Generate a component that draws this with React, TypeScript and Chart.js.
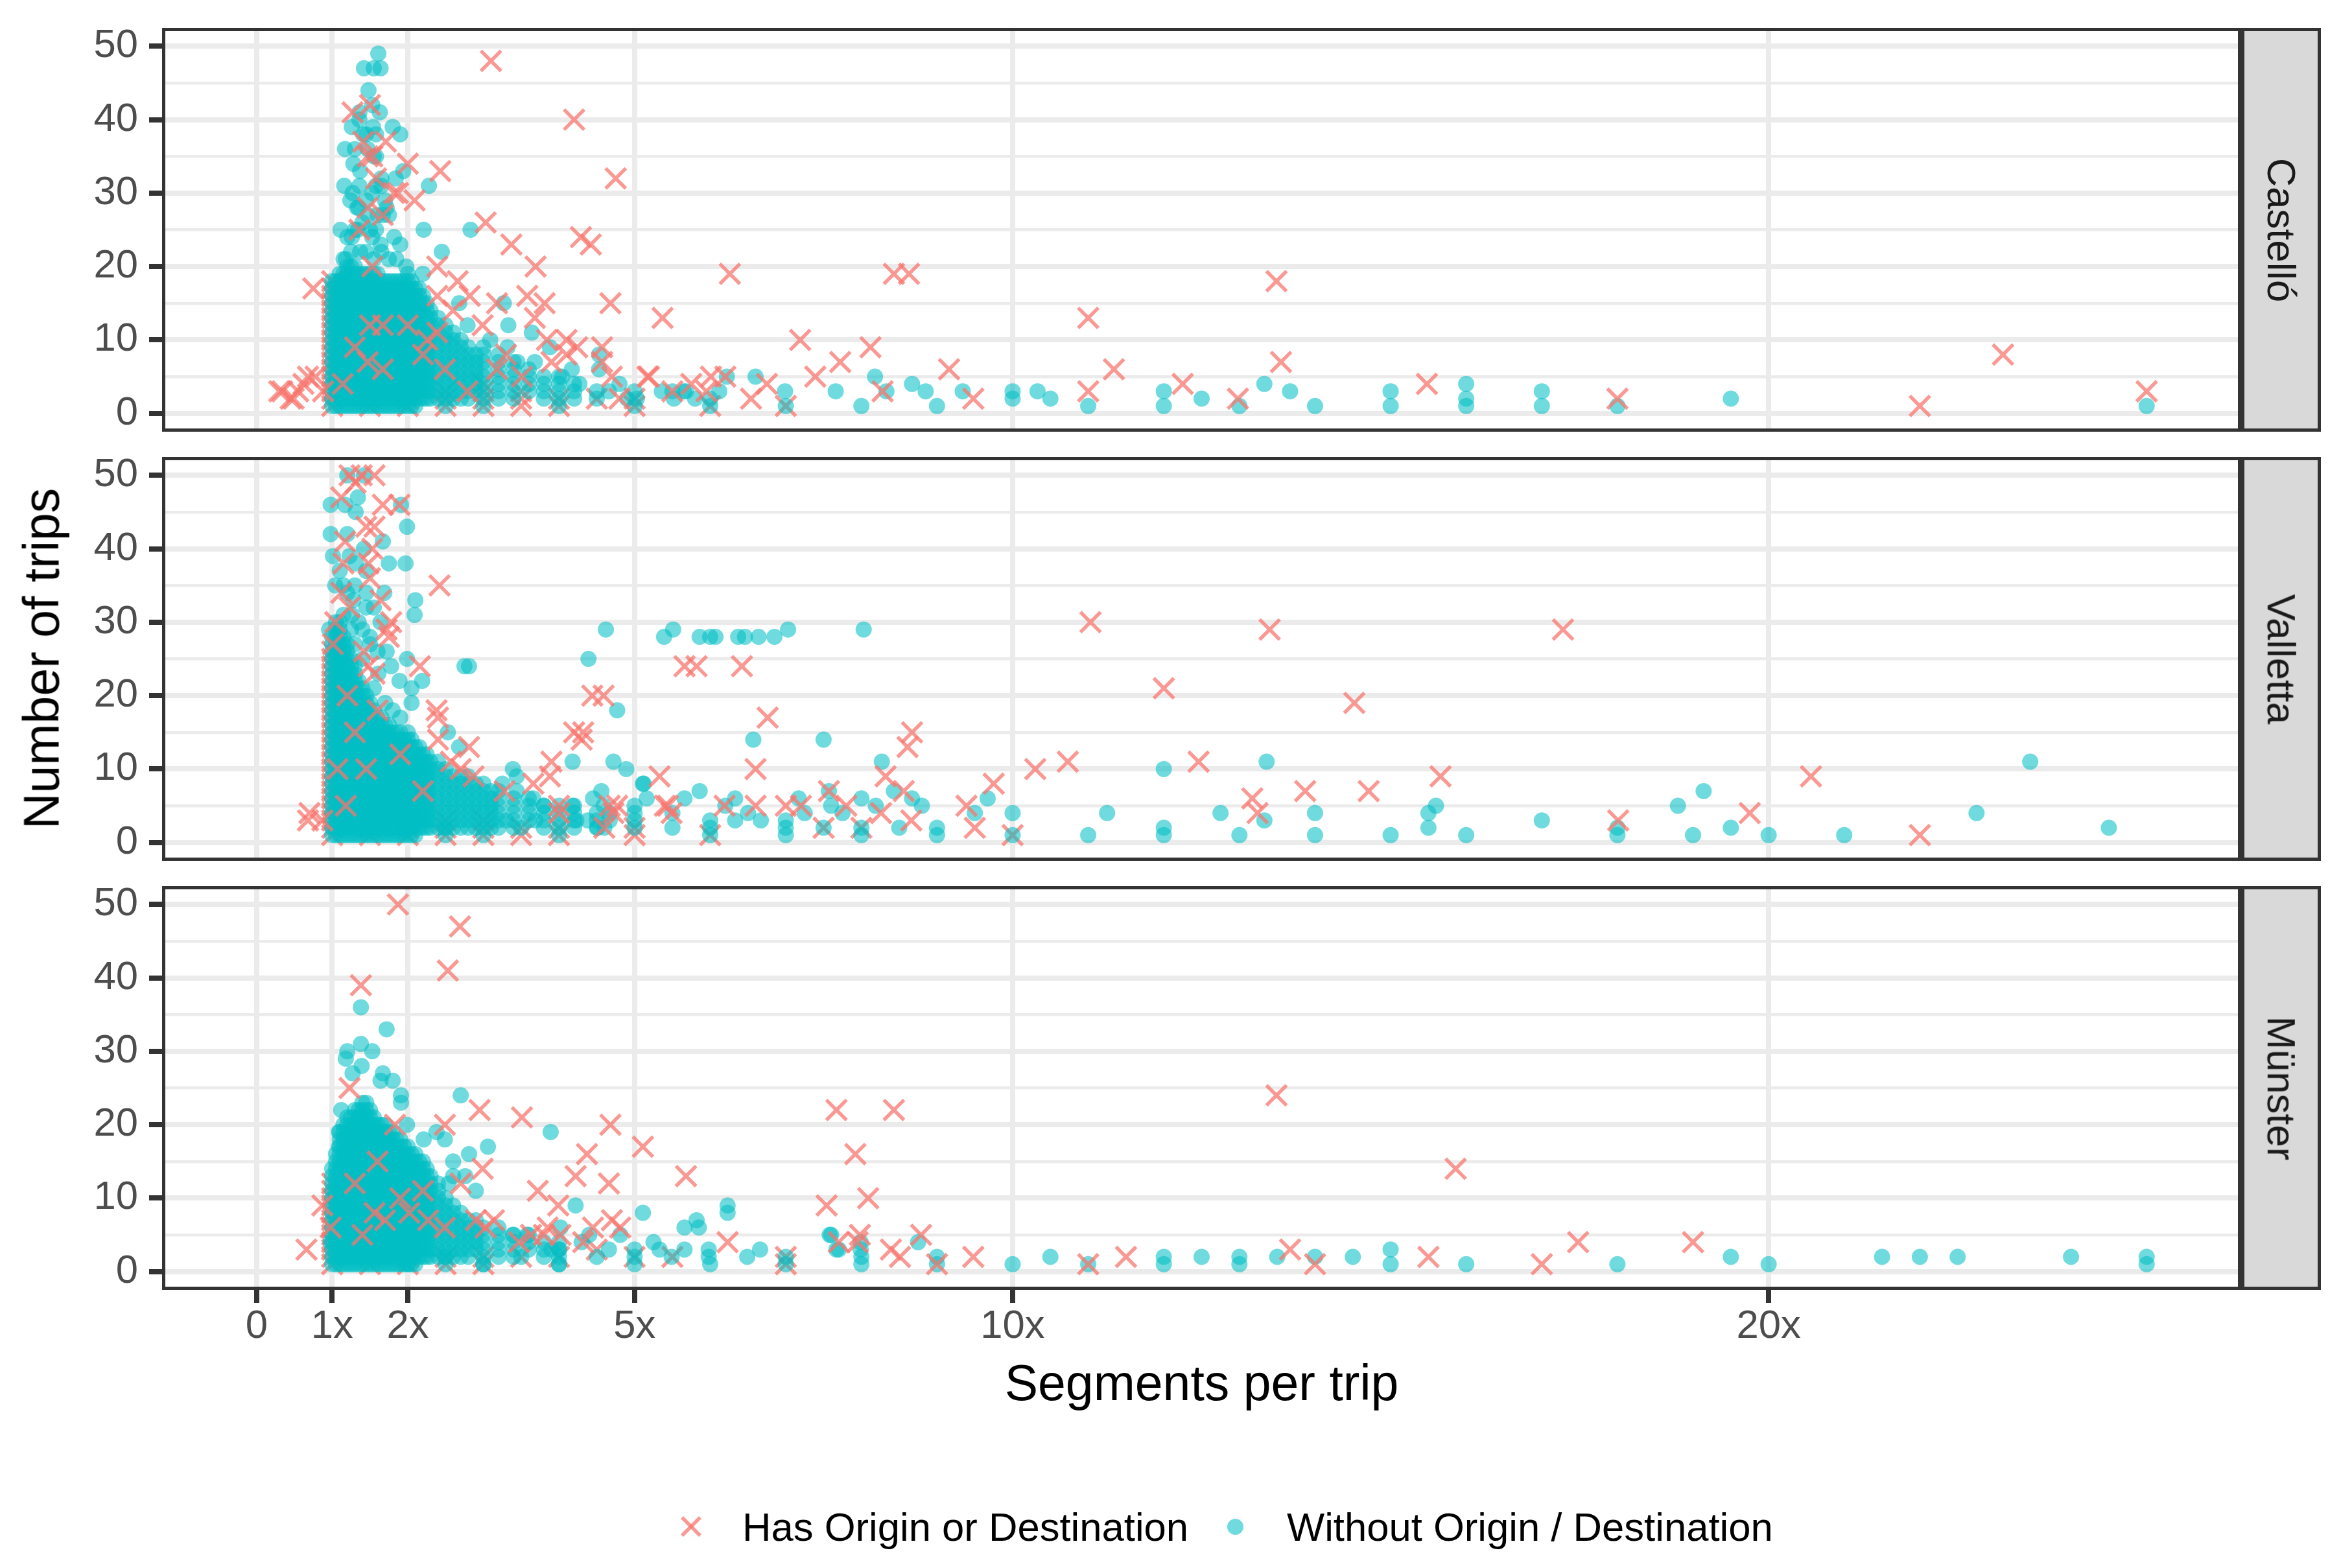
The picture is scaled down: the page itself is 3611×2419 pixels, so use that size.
// App.tsx
import { useEffect, useRef } from 'react';
import Chart from 'chart.js/auto';

type Pt = [number, number];
type Col = [number, number[]]; // one x value, many y values stacked in a column

const facetLabels = ['Castelló', 'Valletta', 'Münster'];
const seriesLabels = ['Has Origin or Destination', 'Without Origin / Destination'];
const xBreaks = [0, 1, 2, 5, 10, 20];
const xBreakLabels = ['0', '1x', '2x', '5x', '10x', '20x'];
const yBreaks = [0, 5, 10, 15, 20, 25, 30, 35, 40, 45, 50];
const yBreakLabels = ['0', '', '10', '', '20', '', '30', '', '40', '', '50'];

// ---------- Castelló ----------
const castelloOdCols: Col[] = [
  [1.0, [1, 2, 3, 4, 5, 6, 7, 8, 9, 10, 11, 12, 13, 14, 15, 16, 17, 18]],
  [1.5, [1, 2, 3, 4, 5]],
  [2.0, [1, 2, 3, 4, 5, 6, 7, 8, 9, 10]],
  [2.5, [1, 2, 3]],
  [3.0, [1, 2, 3, 4]],
  [3.5, [1, 2, 3]],
  [4.0, [1, 2]],
  [4.5, [2]],
  [5.0, [1, 2]],
  [6.0, [1]],
  [7.0, [1]],
];
const castelloOdPts: Pt[] = [
  [3.1, 48], [4.2, 40], [4.75, 32], [2.43, 33], [2, 34], [1.5, 42], [1.27, 41], [1.47, 35], [1.71, 37],
  [1.82, 30], [1.87, 30], [2.09, 29], [1.58, 32], [1.67, 27], [1.47, 28], [1.36, 25], [1.41, 37], [1.53, 35],
  [3.03, 26], [3.37, 23], [4.29, 24], [4.42, 23], [3.69, 20], [2.39, 20], [2.66, 18], [2.82, 16], [3.58, 16],
  [3.81, 15], [4.68, 15], [3.18, 15], [2.39, 16], [1.53, 20], [0.75, 17], [5.37, 13], [6.26, 19], [8.43, 19],
  [8.63, 19], [13.49, 18], [11, 13],
  [1.67, 12], [2, 12], [2.26, 10], [2.39, 11], [2.99, 12], [3.68, 13], [3.84, 10], [4.1, 10], [4.24, 9],
  [4.57, 9], [4.57, 7], [4.7, 5], [5.19, 5], [5.75, 4], [6.01, 5], [6.54, 2], [5.95, 3], [3.51, 5], [3.18, 6],
  [2.49, 6], [2.79, 3], [1.47, 7], [1.14, 4], [0.68, 5], [0.55, 3], [0.34, 3], [0.49, 2], [0.78, 5], [0.88, 3],
  [0.3, 3], [0.45, 2], [0.62, 4], [1.5, 12], [1.67, 6], [1.3, 9], [2.2, 8], [3.3, 8], [2.6, 14], [4.1, 8], [3.9, 7],
  [7.19, 10], [8.12, 9], [7.72, 7], [7.39, 5], [9.16, 6], [11.34, 6], [13.55, 7], [23.1, 8], [12.25, 4],
  [15.48, 4], [25, 3], [22, 1], [18, 2], [12.98, 2], [11, 3], [9.48, 2], [8.28, 3], [6.75, 4], [6.2, 5],
  [5.17, 5], [5.5, 3], [4.8, 2],
];
const castelloNoOdCols: Col[] = [
  [1.0, [1, 2, 3, 4, 5, 6, 7, 8, 9, 10, 11, 12, 13, 14, 15, 16, 17, 18]],
  [1.05, [1, 2, 3, 4, 5, 6, 7, 8, 9, 10, 11, 12, 13, 14, 15, 16, 17, 18]],
  [1.1, [1, 2, 3, 4, 5, 6, 7, 8, 9, 10, 11, 12, 13, 14, 15, 16, 17, 18, 19]],
  [1.15, [1, 2, 3, 4, 5, 6, 7, 8, 9, 10, 11, 12, 13, 14, 15, 16, 17, 18, 19]],
  [1.2, [1, 2, 3, 4, 5, 6, 7, 8, 9, 10, 11, 12, 13, 14, 15, 16, 17, 18, 19, 20]],
  [1.25, [1, 2, 3, 4, 5, 6, 7, 8, 9, 10, 11, 12, 13, 14, 15, 16, 17, 18, 19, 20]],
  [1.3, [1, 2, 3, 4, 5, 6, 7, 8, 9, 10, 11, 12, 13, 14, 15, 16, 17, 18, 19, 20]],
  [1.35, [1, 2, 3, 4, 5, 6, 7, 8, 9, 10, 11, 12, 13, 14, 15, 16, 17, 18, 19]],
  [1.4, [1, 2, 3, 4, 5, 6, 7, 8, 9, 10, 11, 12, 13, 14, 15, 16, 17, 18, 19]],
  [1.45, [1, 2, 3, 4, 5, 6, 7, 8, 9, 10, 11, 12, 13, 14, 15, 16, 17, 18, 19]],
  [1.5, [1, 2, 3, 4, 5, 6, 7, 8, 9, 10, 11, 12, 13, 14, 15, 16, 17, 18, 19]],
  [1.55, [1, 2, 3, 4, 5, 6, 7, 8, 9, 10, 11, 12, 13, 14, 15, 16, 17, 18, 19]],
  [1.6, [1, 2, 3, 4, 5, 6, 7, 8, 9, 10, 11, 12, 13, 14, 15, 16, 17, 18, 19]],
  [1.65, [1, 2, 3, 4, 5, 6, 7, 8, 9, 10, 11, 12, 13, 14, 15, 16, 17, 18]],
  [1.7, [1, 2, 3, 4, 5, 6, 7, 8, 9, 10, 11, 12, 13, 14, 15, 16, 17, 18]],
  [1.75, [1, 2, 3, 4, 5, 6, 7, 8, 9, 10, 11, 12, 13, 14, 15, 16, 17, 18]],
  [1.8, [1, 2, 3, 4, 5, 6, 7, 8, 9, 10, 11, 12, 13, 14, 15, 16, 17, 18]],
  [1.85, [1, 2, 3, 4, 5, 6, 7, 8, 9, 10, 11, 12, 13, 14, 15, 16, 17, 18]],
  [1.9, [1, 2, 3, 4, 5, 6, 7, 8, 9, 10, 11, 12, 13, 14, 15, 16, 17, 18]],
  [1.95, [1, 2, 3, 4, 5, 6, 7, 8, 9, 10, 11, 12, 13, 14, 15, 16, 17, 18]],
  [2.0, [1, 2, 3, 4, 5, 6, 7, 8, 9, 10, 11, 12, 13, 14, 15, 16, 17, 18, 19]],
  [2.05, [1, 2, 3, 4, 5, 6, 7, 8, 9, 10, 11, 12, 13, 14, 15, 16, 17, 18]],
  [2.1, [1, 2, 3, 4, 5, 6, 7, 8, 9, 10, 11, 12, 13, 14, 15, 16, 17]],
  [2.15, [2, 3, 4, 5, 6, 7, 8, 9, 10, 11, 12, 13, 14, 15, 16, 17]],
  [2.2, [2, 3, 4, 5, 6, 7, 8, 9, 10, 11, 12, 13, 14, 15, 16]],
  [2.25, [2, 3, 4, 5, 6, 7, 8, 9, 10, 11, 12, 13, 14, 15]],
  [2.3, [2, 3, 4, 5, 6, 7, 8, 9, 10, 11, 12, 13, 14]],
  [2.4, [2, 3, 4, 5, 6, 7, 8, 9, 10, 11, 12, 13]],
  [2.5, [1, 2, 3, 4, 5, 6, 7, 8, 9, 10, 11, 12]],
  [2.6, [2, 3, 4, 5, 6, 7, 8, 9, 10, 11]],
  [2.7, [2, 3, 4, 5, 6, 7, 8, 9, 10]],
  [2.8, [2, 3, 4, 5, 6, 7, 8, 9]],
  [2.9, [3, 4, 5, 6, 7, 8]],
  [3.0, [1, 2, 3, 4, 5, 6, 7, 8, 9]],
  [3.2, [2, 3, 4, 5, 6, 7, 8]],
  [3.4, [2, 3, 4, 5, 6, 7]],
  [3.6, [3, 4, 5, 6]],
  [3.8, [2, 3, 4, 5]],
  [4.0, [1, 2, 3, 4, 5]],
  [4.2, [2, 3, 4]],
  [4.5, [2, 3]],
];
const castelloNoOdPts: Pt[] = [
  [1.61, 49], [1.42, 47], [1.55, 47], [1.64, 47], [1.48, 44], [1.53, 42], [1.63, 41], [1.36, 41], [1.26, 39],
  [1.36, 40], [1.54, 39], [1.8, 39], [1.9, 38], [1.58, 38], [1.41, 38], [1.17, 36], [1.47, 36], [1.58, 35],
  [1.28, 34], [1.37, 33], [1.55, 35], [1.65, 32], [1.84, 32], [1.94, 33], [1.16, 31], [1.27, 30], [1.36, 31],
  [1.24, 29], [1.53, 30], [1.58, 31], [2.28, 31], [1.33, 28], [1.47, 27], [1.72, 28], [1.75, 27], [1.67, 27],
  [1.11, 25], [1.26, 24], [1.34, 25], [1.58, 25], [1.53, 24], [1.82, 24], [1.9, 23], [1.64, 23], [1.37, 22],
  [1.18, 21], [1.85, 21], [1.98, 20], [2.21, 25], [2.83, 25], [2.45, 22], [2.2, 19],
  [1.15, 21], [1.25, 22], [1.45, 22], [1.55, 21], [1.65, 22], [1.75, 21], [1.2, 24], [1.3, 25], [1.4, 26],
  [1.5, 25], [1.6, 27], [1.35, 28], [1.45, 29], [1.7, 29], [1.65, 31], [1.3, 36], [1.45, 38],
  [2.68, 15], [3.27, 15], [3.33, 12], [2.79, 12], [3.64, 11], [3.88, 9], [3.68, 7], [3.45, 7], [3.32, 9],
  [3.09, 10], [4.53, 8], [4.53, 6], [4.66, 3], [4.27, 4], [4.04, 5], [4.17, 6], [6.22, 5], [6.6, 5], [5.68, 3],
  [5.52, 2], [5.36, 3], [5.03, 2], [5, 1], [6, 1], [6, 2], [5, 3], [4.8, 4], [4.9, 2], [5.5, 3], [5.8, 2],
  [5.65, 3], [6.12, 3], [6.99, 3], [7, 1], [7.66, 3], [8, 1], [8.18, 5], [8.33, 3], [8.67, 4], [8.85, 3],
  [9, 1], [9.34, 3], [10, 3], [10, 2], [10.33, 3], [10.5, 2], [11, 1], [12, 3], [12, 1], [12.5, 2], [13, 1],
  [13.33, 4], [13.67, 3], [14, 1], [15, 3], [15, 1], [16, 4], [16, 2], [16, 1], [17, 3], [17, 1], [18, 1],
  [19.5, 2], [25, 1],
];

// ---------- Valletta ----------
const vallettaOdCols: Col[] = [
  [1.0, [1, 2, 3, 4, 5, 6, 7, 8, 9, 10, 11, 12, 13, 14, 15, 16, 17, 18, 19, 20, 21, 22, 23, 24, 25, 26]],
  [1.5, [1, 2, 3, 5]],
  [2.0, [1, 2, 3, 4, 5, 6, 7, 8]],
  [2.5, [1, 2, 3]],
  [3.0, [1, 2, 3]],
  [3.5, [1, 2]],
  [4.0, [1, 2]],
  [5.0, [1, 2]],
  [6.0, [1]],
  [7.5, [2]],
  [8.0, [2]],
  [10.0, [1]],
];
const vallettaOdPts: Pt[] = [
  [1.23, 50], [1.39, 50], [1.56, 50], [1.12, 47], [1.31, 49], [1.67, 46], [1.89, 46], [1.45, 43], [1.56, 43],
  [1.17, 41], [1.53, 40], [1.15, 38], [1.48, 38], [1.5, 36], [2.42, 35], [1.12, 34], [1.64, 33], [1.23, 32],
  [1.04, 30], [1.78, 30], [1.72, 29], [1.75, 28], [1.01, 27], [1.42, 26], [1.48, 24], [2.16, 24], [1.56, 23],
  [2.38, 18], [2.4, 17], [2.4, 14], [2.81, 13], [2.57, 11], [2.7, 10], [4.2, 15], [4.3, 14], [3.9, 11],
  [3.88, 9], [3.66, 8], [3.28, 7], [2.87, 9], [1.07, 10], [1.45, 10], [1.18, 5], [0.68, 3], [0.7, 4],
  [0.87, 3], [4, 5], [4, 4], [4.67, 5], [4.72, 4], [5.33, 9], [5.44, 5], [5.49, 4], [1.3, 15], [1.6, 18],
  [1.9, 12], [2.2, 7], [1.2, 20],
  [4.44, 20], [4.59, 20], [5.66, 24], [5.82, 24], [6.42, 24], [6.76, 17], [8.67, 15], [8.61, 13], [11.03, 30],
  [13.4, 29], [12, 21], [4.32, 15], [6.6, 10], [8.32, 9], [8.56, 7], [10.3, 10], [10.73, 11], [12.46, 11],
  [9.75, 8], [13.17, 6], [13.24, 4], [7.57, 7], [7.8, 5], [8.26, 4], [8.66, 3], [9.39, 5], [9.5, 2], [4.77, 5],
  [5.4, 5], [6.19, 5], [6.6, 5], [7, 5], [7.2, 5], [4.6, 2],
  [14.52, 19], [17.28, 29], [13.87, 7], [14.71, 7], [15.66, 9], [18.01, 3], [19.75, 4], [20.56, 9], [22, 1],
];
const vallettaNoOdCols: Col[] = [
  [1.0, [1, 2, 3, 4, 5, 6, 7, 8, 9, 10, 11, 12, 13, 14, 15, 16, 17, 18, 19, 20, 21, 22, 23, 24, 25, 26, 27, 28]],
  [1.05, [1, 2, 3, 4, 5, 6, 7, 8, 9, 10, 11, 12, 13, 14, 15, 16, 17, 18, 19, 20, 21, 22, 23, 24, 25, 26, 27, 28, 29, 30]],
  [1.1, [1, 2, 3, 4, 5, 6, 7, 8, 9, 10, 11, 12, 13, 14, 15, 16, 17, 18, 19, 20, 21, 22, 23, 24, 25, 26, 27, 28, 29, 30]],
  [1.15, [1, 2, 3, 4, 5, 6, 7, 8, 9, 10, 11, 12, 13, 14, 15, 16, 17, 18, 19, 20, 21, 22, 23, 24, 25, 26, 27, 28]],
  [1.2, [1, 2, 3, 4, 5, 6, 7, 8, 9, 10, 11, 12, 13, 14, 15, 16, 17, 18, 19, 20, 21, 22, 23, 24, 25, 26, 27]],
  [1.25, [1, 2, 3, 4, 5, 6, 7, 8, 9, 10, 11, 12, 13, 14, 15, 16, 17, 18, 19, 20, 21, 22, 23, 24, 25]],
  [1.3, [1, 2, 3, 4, 5, 6, 7, 8, 9, 10, 11, 12, 13, 14, 15, 16, 17, 18, 19, 20, 21, 22, 23, 24]],
  [1.35, [1, 2, 3, 4, 5, 6, 7, 8, 9, 10, 11, 12, 13, 14, 15, 16, 17, 18, 19, 20, 21, 22]],
  [1.4, [1, 2, 3, 4, 5, 6, 7, 8, 9, 10, 11, 12, 13, 14, 15, 16, 17, 18, 19, 20, 21]],
  [1.45, [1, 2, 3, 4, 5, 6, 7, 8, 9, 10, 11, 12, 13, 14, 15, 16, 17, 18, 19, 20]],
  [1.5, [1, 2, 3, 4, 5, 6, 7, 8, 9, 10, 11, 12, 13, 14, 15, 16, 17, 18, 19]],
  [1.55, [1, 2, 3, 4, 5, 6, 7, 8, 9, 10, 11, 12, 13, 14, 15, 16, 17, 18]],
  [1.6, [1, 2, 3, 4, 5, 6, 7, 8, 9, 10, 11, 12, 13, 14, 15, 16, 17]],
  [1.65, [1, 2, 3, 4, 5, 6, 7, 8, 9, 10, 11, 12, 13, 14, 15, 16, 17]],
  [1.7, [1, 2, 3, 4, 5, 6, 7, 8, 9, 10, 11, 12, 13, 14, 15, 16]],
  [1.75, [1, 2, 3, 4, 5, 6, 7, 8, 9, 10, 11, 12, 13, 14, 15, 16]],
  [1.8, [1, 2, 3, 4, 5, 6, 7, 8, 9, 10, 11, 12, 13, 14, 15]],
  [1.85, [1, 2, 3, 4, 5, 6, 7, 8, 9, 10, 11, 12, 13, 14, 15]],
  [1.9, [1, 2, 3, 4, 5, 6, 7, 8, 9, 10, 11, 12, 13, 14, 15]],
  [1.95, [1, 2, 3, 4, 5, 6, 7, 8, 9, 10, 11, 12, 13, 14]],
  [2.0, [1, 2, 3, 4, 5, 6, 7, 8, 9, 10, 11, 12, 13, 14, 15]],
  [2.05, [1, 2, 3, 4, 5, 6, 7, 8, 9, 10, 11, 12, 13, 14]],
  [2.1, [1, 2, 3, 4, 5, 6, 7, 8, 9, 10, 11, 12, 13]],
  [2.15, [2, 3, 4, 5, 6, 7, 8, 9, 10, 11, 12, 13]],
  [2.2, [2, 3, 4, 5, 6, 7, 8, 9, 10, 11, 12]],
  [2.25, [2, 3, 4, 5, 6, 7, 8, 9, 10, 11, 12]],
  [2.3, [2, 3, 4, 5, 6, 7, 8, 9, 10, 11]],
  [2.4, [2, 3, 4, 5, 6, 7, 8, 9, 10, 11]],
  [2.5, [1, 2, 3, 4, 5, 6, 7, 8, 9, 10]],
  [2.6, [2, 3, 4, 5, 6, 7, 8, 9]],
  [2.7, [2, 3, 4, 5, 6, 7, 8, 9]],
  [2.8, [2, 3, 4, 5, 6, 7, 8, 9]],
  [2.9, [2, 3, 4, 5, 6, 7, 8]],
  [3.0, [1, 2, 3, 4, 5, 6, 7, 8]],
  [3.1, [2, 3, 4, 5, 6, 7]],
  [3.2, [2, 3, 4, 5, 6, 7]],
  [3.4, [2, 3, 4, 5, 6]],
  [3.6, [3, 4, 5, 6]],
  [3.8, [2, 3, 4, 5]],
  [4.0, [1, 2, 3, 4, 5]],
  [4.2, [2, 3, 4, 5]],
  [4.5, [2, 3, 4]],
];
const vallettaNoOdPts: Pt[] = [
  [1.2, 50], [1.42, 50], [1.34, 47], [0.98, 46], [1.17, 46], [1.31, 45], [1.91, 46], [1.99, 43], [0.98, 42],
  [1.2, 42], [1.67, 41], [1.42, 40], [1.01, 39], [1.23, 39], [1.75, 38], [1.97, 38], [1.31, 38], [1.45, 37],
  [1.15, 35], [1.04, 35], [1.45, 34], [1.69, 34], [2.1, 33], [2.09, 31], [1.28, 33], [1.26, 31], [0.96, 29],
  [1.64, 30], [1.72, 26], [1.99, 25], [1.78, 24], [1.61, 23], [1.89, 22], [2.19, 22], [2.05, 21], [2.05, 19],
  [2.75, 24], [2.81, 24], [1.5, 28], [1.55, 32], [1.4, 29],
  [1.15, 31], [1.25, 29], [1.3, 27], [1.4, 25], [1.35, 30], [1.5, 27], [1.45, 32], [1.2, 34], [1.1, 37],
  [1.3, 35], [1.6, 26], [1.55, 21], [1.7, 19], [1.8, 18], [1.9, 17],
  [4.62, 29], [4.39, 25], [4.77, 18], [2.53, 15], [2.68, 13], [3.39, 10], [3.44, 9], [4.18, 11], [4.72, 11],
  [4.89, 10], [5.11, 8], [3.25, 8], [3.44, 7], [3.66, 6], [3.8, 5], [4.18, 5], [4.56, 7], [4.45, 6], [4.59, 5],
  [4.23, 3], [4.51, 2], [5, 2], [4.67, 3], [3.3, 3], [3.5, 2], [3.69, 3], [2.49, 2], [1.5, 2],
  [5.39, 28], [5.51, 29], [5.86, 28], [6, 28], [6.07, 28], [6.37, 28], [6.46, 28], [6.64, 28], [6.85, 28],
  [7.03, 29], [8.03, 29], [6.57, 14], [7.5, 14], [5.12, 8], [5.16, 6], [5.66, 6], [5.86, 7], [6.33, 6],
  [6.2, 5], [8.27, 11], [8.43, 7], [8.67, 6], [8.8, 5], [9.67, 6], [10, 4], [11.25, 4], [12, 10], [12.75, 4],
  [13.36, 11], [13.33, 3], [12, 2], [12, 1], [11, 1], [13, 1], [10, 1], [9.5, 4], [9, 2], [9, 1], [8.5, 2],
  [8, 2], [8, 1], [8.19, 5], [8, 6], [7.75, 4], [7.6, 5], [7.57, 7], [7.5, 2], [7.17, 6], [7.25, 4], [7, 2],
  [7, 1], [7, 3], [6.67, 3], [6.5, 4], [6.33, 3], [6, 3], [6, 2], [6, 1], [5.5, 2], [5.5, 4], [5, 3], [5, 4],
  [5, 5], [4.67, 4], [4.6, 2], [4.38, 3],
  [14, 4], [14, 1], [15, 1], [15.5, 2], [15.5, 4], [15.6, 5], [16, 1], [17, 3], [18, 1], [18, 2], [18.8, 5],
  [19, 1], [19.14, 7], [19.5, 2], [20, 1], [21, 1], [22.75, 4], [23.46, 11], [24.5, 2],
];

// ---------- Münster ----------
const munsterOdCols: Col[] = [
  [1.0, [1, 2, 3, 4, 5, 6, 7, 8, 9, 10, 11, 12]],
  [1.5, [1, 2, 3]],
  [2.0, [1, 2, 3, 4, 5]],
  [2.5, [1, 2]],
  [3.0, [1, 2]],
  [3.5, [2]],
  [4.0, [2]],
  [4.5, [3]],
  [5.0, [2]],
  [5.5, [2]],
  [7.0, [1, 2]],
];
const munsterOdPts: Pt[] = [
  [1.87, 50], [2.69, 47], [2.53, 41], [1.38, 39], [1.23, 25], [2.95, 22], [3.51, 21], [2.49, 20], [4.68, 20],
  [1.83, 20], [4.37, 16], [5.11, 17], [2.99, 14], [4.22, 13], [4.66, 12], [5.68, 13], [3.72, 11], [3.99, 9],
  [7.67, 22], [7.92, 16], [8.09, 10], [7.54, 9], [8.43, 22], [0.87, 9], [0.98, 6], [0.66, 3], [1.56, 8],
  [2.02, 8], [2.27, 7], [2.49, 6], [2.7, 12], [2.9, 7], [3.14, 7], [3.03, 6], [3.47, 4], [3.63, 5], [3.8, 5],
  [3.85, 6], [4.02, 5], [4.45, 6], [4.7, 7], [4.81, 6], [4.32, 4], [6.23, 4], [7.7, 4], [7.98, 5], [8.39, 3],
  [1.3, 12], [1.6, 15], [1.9, 10], [2.2, 11], [1.4, 5], [1.7, 7],
  [13.49, 24], [15.86, 14], [13.67, 3], [14, 1], [15.5, 2], [17, 1], [17.48, 4], [19, 4], [11.5, 2], [11, 1],
  [9.48, 2], [9, 1], [8.79, 5], [8.51, 2], [7.95, 4],
];
const munsterNoOdCols: Col[] = [
  [1.0, [1, 2, 3, 4, 5, 6, 7, 8, 9, 10, 11, 12, 13, 14]],
  [1.05, [1, 2, 3, 4, 5, 6, 7, 8, 9, 10, 11, 12, 13, 14, 15, 16]],
  [1.1, [1, 2, 3, 4, 5, 6, 7, 8, 9, 10, 11, 12, 13, 14, 15, 16, 17, 18, 19]],
  [1.15, [1, 2, 3, 4, 5, 6, 7, 8, 9, 10, 11, 12, 13, 14, 15, 16, 17, 18, 19, 20]],
  [1.2, [1, 2, 3, 4, 5, 6, 7, 8, 9, 10, 11, 12, 13, 14, 15, 16, 17, 18, 19, 20, 21]],
  [1.25, [1, 2, 3, 4, 5, 6, 7, 8, 9, 10, 11, 12, 13, 14, 15, 16, 17, 18, 19, 20, 21]],
  [1.3, [1, 2, 3, 4, 5, 6, 7, 8, 9, 10, 11, 12, 13, 14, 15, 16, 17, 18, 19, 20, 21, 22]],
  [1.35, [1, 2, 3, 4, 5, 6, 7, 8, 9, 10, 11, 12, 13, 14, 15, 16, 17, 18, 19, 20, 21, 22]],
  [1.4, [1, 2, 3, 4, 5, 6, 7, 8, 9, 10, 11, 12, 13, 14, 15, 16, 17, 18, 19, 20, 21, 22, 23]],
  [1.45, [1, 2, 3, 4, 5, 6, 7, 8, 9, 10, 11, 12, 13, 14, 15, 16, 17, 18, 19, 20, 21, 22]],
  [1.5, [1, 2, 3, 4, 5, 6, 7, 8, 9, 10, 11, 12, 13, 14, 15, 16, 17, 18, 19, 20, 21, 22]],
  [1.55, [1, 2, 3, 4, 5, 6, 7, 8, 9, 10, 11, 12, 13, 14, 15, 16, 17, 18, 19, 20, 21]],
  [1.6, [1, 2, 3, 4, 5, 6, 7, 8, 9, 10, 11, 12, 13, 14, 15, 16, 17, 18, 19, 20]],
  [1.65, [1, 2, 3, 4, 5, 6, 7, 8, 9, 10, 11, 12, 13, 14, 15, 16, 17, 18, 19, 20]],
  [1.7, [1, 2, 3, 4, 5, 6, 7, 8, 9, 10, 11, 12, 13, 14, 15, 16, 17, 18, 19, 20]],
  [1.75, [1, 2, 3, 4, 5, 6, 7, 8, 9, 10, 11, 12, 13, 14, 15, 16, 17, 18, 19]],
  [1.8, [1, 2, 3, 4, 5, 6, 7, 8, 9, 10, 11, 12, 13, 14, 15, 16, 17, 18, 19]],
  [1.85, [1, 2, 3, 4, 5, 6, 7, 8, 9, 10, 11, 12, 13, 14, 15, 16, 17, 18]],
  [1.9, [1, 2, 3, 4, 5, 6, 7, 8, 9, 10, 11, 12, 13, 14, 15, 16, 17, 18]],
  [1.95, [1, 2, 3, 4, 5, 6, 7, 8, 9, 10, 11, 12, 13, 14, 15, 16, 17]],
  [2.0, [1, 2, 3, 4, 5, 6, 7, 8, 9, 10, 11, 12, 13, 14, 15, 16, 17]],
  [2.05, [1, 2, 3, 4, 5, 6, 7, 8, 9, 10, 11, 12, 13, 14, 15, 16]],
  [2.1, [1, 2, 3, 4, 5, 6, 7, 8, 9, 10, 11, 12, 13, 14, 15, 16]],
  [2.15, [2, 3, 4, 5, 6, 7, 8, 9, 10, 11, 12, 13, 14, 15]],
  [2.2, [2, 3, 4, 5, 6, 7, 8, 9, 10, 11, 12, 13, 14, 15]],
  [2.25, [2, 3, 4, 5, 6, 7, 8, 9, 10, 11, 12, 13, 14]],
  [2.3, [2, 3, 4, 5, 6, 7, 8, 9, 10, 11, 12, 13]],
  [2.4, [2, 3, 4, 5, 6, 7, 8, 9, 10, 11, 12]],
  [2.5, [1, 2, 3, 4, 5, 6, 7, 8, 9, 10]],
  [2.6, [2, 3, 4, 5, 6, 7, 8, 9]],
  [2.7, [2, 3, 4, 5, 6, 7, 8]],
  [2.8, [2, 3, 4, 5, 6, 7]],
  [2.9, [3, 4, 5, 6, 7]],
  [3.0, [1, 2, 3, 4, 5, 6]],
  [3.2, [2, 3, 4, 5, 6]],
  [3.4, [2, 3, 4, 5]],
  [3.6, [3, 4, 5]],
  [3.8, [2, 3, 4]],
  [4.0, [1, 2, 3, 4]],
];
const munsterNoOdPts: Pt[] = [
  [1.38, 36], [1.72, 33], [1.38, 31], [1.2, 30], [1.53, 30], [1.18, 29], [1.39, 28], [1.27, 27], [1.67, 27],
  [1.8, 26], [1.64, 26], [1.91, 24], [1.91, 23], [2.7, 24], [1.12, 22], [1.45, 23], [2.38, 19], [2.49, 18],
  [2.21, 18], [1.99, 20], [3.06, 17], [2.81, 16], [2.6, 15], [3.89, 19], [1.09, 19], [1.09, 17], [2.9, 11],
  [2.76, 13], [2.6, 13], [2.54, 12], [4.22, 9], [5.11, 8], [5.66, 6], [5.82, 7], [6.23, 9], [6.23, 8],
  [5.85, 6], [3.39, 5], [3.58, 5], [4.02, 6], [4.81, 5], [5.25, 4], [5.33, 3], [5.66, 3], [5.49, 2], [5.98, 3],
  [5.98, 2], [6, 1], [6.49, 2], [6.66, 3], [7, 2], [7.6, 5], [7.67, 3], [7.99, 4], [7.99, 3], [8, 1], [5, 3],
  [5, 2], [5, 1], [4.66, 3], [4.5, 2], [4, 1], [4, 3], [3.5, 2], [3, 1], [2.49, 2], [2, 1], [1.49, 2], [0.98, 4],
  [4.3, 4], [4.4, 5], [3.9, 3],
  [10, 1], [10.5, 2], [11, 1], [12, 2], [12, 1], [12.5, 2], [13, 2], [13, 1], [13.5, 2], [14, 2], [14.5, 2],
  [15, 3], [15, 1], [16, 1], [18, 1], [19.5, 2], [20, 1], [21.5, 2], [22, 2], [22.5, 2], [24, 2], [25, 2],
  [25, 1], [9, 1], [9, 2], [8.75, 4], [8, 2], [7.58, 5], [7.7, 3], [7, 1],
];

const panelData = [
  { odCols: castelloOdCols, odPts: castelloOdPts, noOdCols: castelloNoOdCols, noOdPts: castelloNoOdPts },
  { odCols: vallettaOdCols, odPts: vallettaOdPts, noOdCols: vallettaNoOdCols, noOdPts: vallettaNoOdPts },
  { odCols: munsterOdCols, odPts: munsterOdPts, noOdCols: munsterNoOdCols, noOdPts: munsterNoOdPts },
];

const FONT = "'Liberation Sans', Arial, Helvetica, sans-serif";
const CROSS = 'rgba(248,118,109,0.74)';
const DOT = 'rgba(0,191,196,0.56)';
const PAGE_W = 3611;
const PAGE_H = 2419;
const PLOT_LEFT = 250;
const PLOT_RIGHT = 3457;
const PANEL_TOP = [43, 705, 1367];
const PANEL_H = 623;
const INNER_TOP = 43; // chart area top inside each canvas

const colPoints = (cols: Col[]) => cols.flatMap(([x, ys]) => ys.map((y) => ({ x, y })));
const ptPoints = (pts: Pt[]) => pts.map(([x, y]) => ({ x, y }));

// full panel border like theme_bw
const panelBorder = {
  id: 'panelBorder',
  afterDatasetsDraw(chart: Chart) {
    const { ctx, chartArea } = chart;
    ctx.save();
    ctx.strokeStyle = '#333333';
    ctx.lineWidth = 5;
    ctx.strokeRect(chartArea.left + 2.5, chartArea.top + 2.5, chartArea.right - chartArea.left - 5, chartArea.bottom - chartArea.top - 5);
    ctx.restore();
  },
};

const crossStyle = {
  pointStyle: 'crossRot' as const,
  pointRadius: 22,
  pointBorderWidth: 5.5,
  pointBorderColor: CROSS,
  pointBackgroundColor: CROSS,
};

const Panel = ({ index }: { index: number }) => {
  const canvasRef = useRef<HTMLCanvasElement>(null);
  const last = index === facetLabels.length - 1;
  const top = PANEL_TOP[index] - INNER_TOP;
  const height = last ? PAGE_H - top : 700;
  const areaBottom = INNER_TOP + PANEL_H;

  useEffect(() => {
    if (!canvasRef.current) return;
    const d = panelData[index];
    const chart = new Chart(canvasRef.current, {
      type: 'scatter',
      data: {
        datasets: [
          // crosses stacked in columns sit under the dots, the scattered ones over them
          { label: seriesLabels[0], data: colPoints(d.odCols), ...crossStyle, order: 3 },
          {
            label: seriesLabels[1],
            data: [...colPoints(d.noOdCols), ...ptPoints(d.noOdPts)],
            pointStyle: 'circle',
            pointRadius: 12.5,
            pointBorderWidth: 0,
            pointBorderColor: 'rgba(0,0,0,0)',
            pointBackgroundColor: DOT,
            order: 2,
          },
          { label: seriesLabels[0], data: ptPoints(d.odPts), ...crossStyle, order: 1 },
        ],
      },
      options: {
        responsive: false,
        animation: false,
        events: [],
        layout: { padding: { left: 0, right: PAGE_W - PLOT_RIGHT, top: INNER_TOP, bottom: last ? 0 : height - areaBottom } },
        plugins: { legend: { display: false }, tooltip: { enabled: false } },
        scales: {
          x: {
            type: 'linear',
            min: -1.25,
            max: 26.25,
            afterBuildTicks: (s: any) => { s.ticks = xBreaks.map((value) => ({ value })); },
            afterFit: (s: any) => {
              s.height = last ? height - areaBottom : 0;
              s.paddingLeft = 0;
              s.paddingRight = 0;
            },
            border: { display: false },
            grid: { color: '#EBEBEB', lineWidth: 8, drawTicks: last, tickLength: 20, tickColor: '#333333', tickWidth: 8 },
            ticks: {
              display: last,
              autoSkip: false,
              maxRotation: 0,
              minRotation: 0,
              padding: 0,
              color: '#4D4D4D',
              font: { size: 61.6, family: FONT },
              callback: (v: any) => xBreakLabels[xBreaks.indexOf(Number(v))] ?? '',
            },
          },
          y: {
            type: 'linear',
            min: -2.5,
            max: 52.5,
            afterBuildTicks: (s: any) => { s.ticks = yBreaks.map((value) => ({ value })); },
            afterFit: (s: any) => {
              s.width = PLOT_LEFT;
              s.paddingTop = 0;
              s.paddingBottom = 0;
            },
            border: { display: false },
            grid: {
              color: '#EBEBEB',
              lineWidth: (c: any) => (c.tick && c.tick.value % 10 === 0 ? 8 : 4.5),
              tickLength: 20,
              tickWidth: 8,
              tickColor: (c: any) => (c.tick && c.tick.value % 10 === 0 ? '#333333' : 'rgba(0,0,0,0)'),
            },
            ticks: {
              autoSkip: false,
              padding: 17,
              color: '#4D4D4D',
              font: { size: 61.6, family: FONT },
              callback: (v: any) => yBreakLabels[yBreaks.indexOf(Number(v))] ?? '',
            },
          },
        },
      },
      plugins: [panelBorder],
    });
    return () => chart.destroy();
  }, []);

  return (
    <canvas
      ref={canvasRef}
      width={PAGE_W}
      height={height}
      style={{ position: 'absolute', left: 0, top, width: PAGE_W, height }}
    />
  );
};

export default function App() {
  return (
    <div
      style={{
        position: 'absolute', left: 0, top: 0, width: PAGE_W, height: PAGE_H,
        background: '#ffffff', overflow: 'hidden', fontFamily: FONT,
      }}
    >
      {facetLabels.map((_, i) => <Panel key={i} index={i} />)}

      {facetLabels.map((label, i) => (
        <div
          key={label}
          style={{
            position: 'absolute', left: PLOT_RIGHT, top: PANEL_TOP[i], width: 123, height: PANEL_H,
            boxSizing: 'border-box', background: '#D9D9D9', border: '5px solid #333333',
          }}
        >
          <div
            style={{
              position: 'absolute', left: '50%', top: '50%', transform: 'translate(-50%,-50%) rotate(90deg)',
              whiteSpace: 'nowrap', fontSize: 61.6, lineHeight: 1, color: '#1A1A1A',
            }}
          >
            {label}
          </div>
        </div>
      ))}

      <div
        style={{
          position: 'absolute', left: 64, top: 1016, transform: 'translate(-50%,-50%) rotate(-90deg)',
          whiteSpace: 'nowrap', fontSize: 77, lineHeight: 1, color: '#000000',
        }}
      >
        Number of trips
      </div>

      <div
        style={{
          position: 'absolute', left: PLOT_LEFT, top: 2095, width: PLOT_RIGHT - PLOT_LEFT, textAlign: 'center',
          fontSize: 77, lineHeight: 1, color: '#000000',
        }}
      >
        Segments per trip
      </div>

      {/* legend */}
      <svg style={{ position: 'absolute', left: 1050, top: 2339 }} width={32} height={32}>
        <line x1={2} y1={2} x2={30} y2={30} stroke={CROSS} strokeWidth={5.5} />
        <line x1={30} y1={2} x2={2} y2={30} stroke={CROSS} strokeWidth={5.5} />
      </svg>
      <div style={{ position: 'absolute', left: 1145, top: 2325, fontSize: 61.6, lineHeight: 1, whiteSpace: 'nowrap', color: '#000000' }}>
        {seriesLabels[0]}
      </div>
      <div style={{ position: 'absolute', left: 1893, top: 2343, width: 25, height: 25, borderRadius: '50%', background: DOT }} />
      <div style={{ position: 'absolute', left: 1985, top: 2325, fontSize: 61.6, lineHeight: 1, whiteSpace: 'nowrap', color: '#000000' }}>
        {seriesLabels[1]}
      </div>
    </div>
  );
}
